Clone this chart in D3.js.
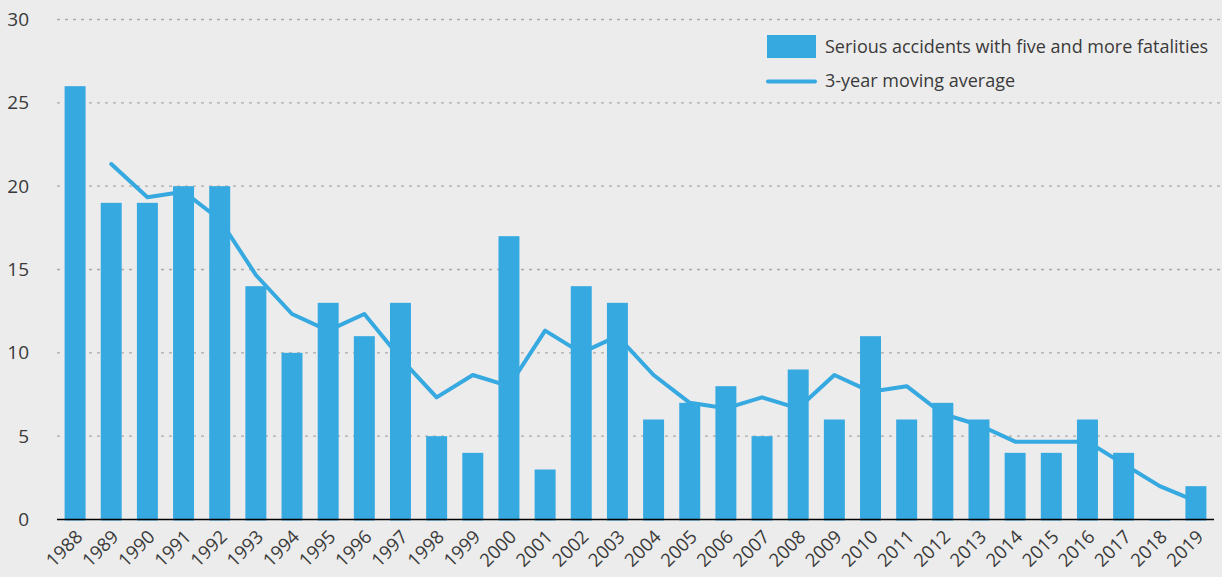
<!DOCTYPE html>
<html>
<head>
<meta charset="utf-8">
<script src="https://cdn.jsdelivr.net/npm/d3@7"></script>
<style>
  html, body { margin: 0; padding: 0; background: #ececec; }
  svg { display: block; font-family: "Open Sans", sans-serif; }
</style>
</head>
<body>
<svg id="chart" width="1222" height="577"></svg>
<script>
const years = ["1988","1989","1990","1991","1992","1993","1994","1995","1996","1997",
  "1998","1999","2000","2001","2002","2003","2004","2005","2006","2007","2008","2009",
  "2010","2011","2012","2013","2014","2015","2016","2017","2018","2019"];
const accidents = [26,19,19,20,20,14,10,13,11,13,5,4,17,3,14,13,6,7,8,5,9,6,11,6,7,6,4,4,6,4,0,2];
// 3-year moving average, first value appears in 1989
const movingAvg = [null,21.33,19.33,19.67,18,14.67,12.33,11.33,12.33,9.67,7.33,8.67,8,11.33,
  10,11,8.67,7,6.67,7.33,6.67,8.67,7.67,8,6.33,5.67,4.67,4.67,4.67,3.33,2,1.1];
const yTicks = [0,5,10,15,20,25,30];
const seriesNames = ["Serious accidents with five and more fatalities", "3-year moving average"];

const blue = "#36a9e1";
const textCol = "#3a3a3a";
const svg = d3.select("#chart");
const plotLeft = 57, plotRight = 1214, plotTop = 19.5, plotBottom = 519.5;

const x = d3.scaleBand().domain(years).range([plotLeft, plotRight]).paddingInner(0.42).paddingOuter(0.21);
const y = d3.scaleLinear().domain([0, 30]).range([plotBottom, plotTop]);

// gridlines
svg.append("g").selectAll("line")
  .data(yTicks.filter(d => d > 0))
  .join("line")
    .attr("x1", plotLeft).attr("x2", 1222)
    .attr("y1", d => y(d)).attr("y2", d => y(d))
    .attr("stroke", "#aaa")
    .attr("stroke-width", 1.3)
    .attr("stroke-dasharray", "3,5");

// y labels
svg.append("g").selectAll("text")
  .data(yTicks)
  .join("text")
    .attr("x", 29)
    .attr("y", d => y(d) + 6.5)
    .attr("text-anchor", "end")
    .attr("fill", textCol)
    .attr("font-size", 19)
    .text(d => d);

// bars
svg.append("g").selectAll("rect")
  .data(years.map((yr, i) => ({yr, v: accidents[i]})))
  .join("rect")
    .attr("x", d => x(d.yr))
    .attr("width", x.bandwidth())
    .attr("y", d => y(d.v))
    .attr("height", d => y(0) - y(d.v) + 1)
    .attr("fill", blue);

// moving average line
const lineData = years.map((yr, i) => ({yr, v: movingAvg[i]})).filter(d => d.v !== null);
svg.append("path")
  .datum(lineData)
  .attr("fill", "none")
  .attr("stroke", blue)
  .attr("stroke-width", 4)
  .attr("stroke-linecap", "round")
  .attr("stroke-linejoin", "round")
  .attr("d", d3.line().x(d => x(d.yr) + x.bandwidth() / 2).y(d => y(d.v)));

// x axis line
svg.append("line")
  .attr("x1", plotLeft).attr("x2", plotRight)
  .attr("y1", plotBottom).attr("y2", plotBottom)
  .attr("stroke", "#000").attr("stroke-width", 1.5);

// year labels
svg.append("g").selectAll("text")
  .data(years)
  .join("text")
    .attr("transform", d => `translate(${x(d) + x.bandwidth() / 2 + 4},${plotBottom + 14}) rotate(-45)`)
    .attr("text-anchor", "end")
    .attr("dy", "0.35em")
    .attr("fill", textCol)
    .attr("font-size", 18.5)
    .text(d => d);

// legend
const legend = svg.append("g");
legend.append("rect")
  .attr("x", 767).attr("y", 35).attr("width", 49).attr("height", 23)
  .attr("fill", blue);
legend.append("text")
  .attr("x", 825).attr("y", 53)
  .attr("fill", textCol).attr("font-size", 18)
  .text(seriesNames[0]);
legend.append("line")
  .attr("x1", 768).attr("x2", 815).attr("y1", 81.5).attr("y2", 81.5)
  .attr("stroke", blue).attr("stroke-width", 4).attr("stroke-linecap", "round");
legend.append("text")
  .attr("x", 825).attr("y", 87)
  .attr("fill", textCol).attr("font-size", 18)
  .text(seriesNames[1]);
</script>
</body>
</html>
